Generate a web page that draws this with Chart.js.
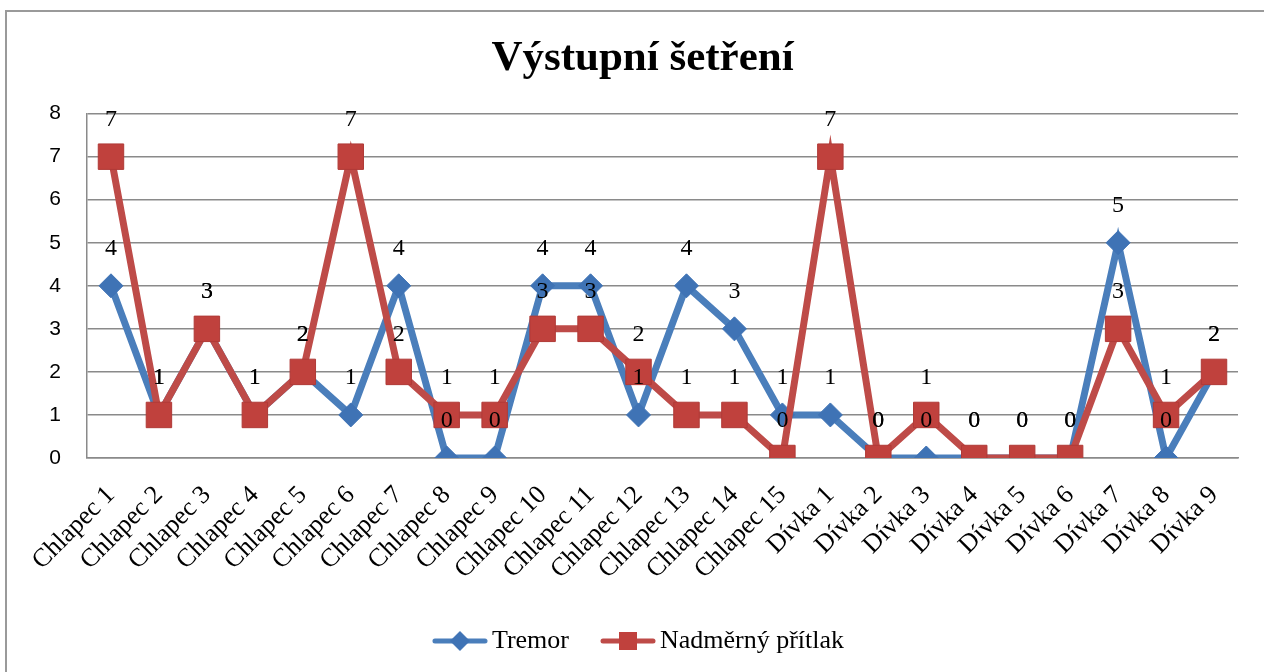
<!DOCTYPE html>
<html>
<head>
<meta charset="utf-8">
<script src="https://cdn.jsdelivr.net/npm/chart.js@4.4.1/dist/chart.umd.min.js"></script>
<style>
  html, body { margin: 0; padding: 0; background: #fff; }
  #wrap { position: relative; width: 1264px; height: 672px; overflow: hidden; }
  #frame { position: absolute; left: 5px; top: 10px; width: 1300px; height: 700px; border: 2px solid #9a9a9a; box-sizing: border-box; }
  canvas { position: absolute; left: 0; top: 0; }
</style>
</head>
<body>
<div id="wrap">
  <div id="frame"></div>
  <canvas id="c" width="1264" height="672"></canvas>
</div>
<script>
const CATEGORIES = [
  'Chlapec 1','Chlapec 2','Chlapec 3','Chlapec 4','Chlapec 5','Chlapec 6','Chlapec 7','Chlapec 8',
  'Chlapec 9','Chlapec 10','Chlapec 11','Chlapec 12','Chlapec 13','Chlapec 14','Chlapec 15',
  'Dívka 1','Dívka 2','Dívka 3','Dívka 4','Dívka 5','Dívka 6','Dívka 7','Dívka 8','Dívka 9'
];
const TREMOR = [4,1,3,1,2,1,4,0,0,4,4,1,4,3,1,1,0,0,0,0,0,5,0,2];
const PRITLAK = [7,1,3,1,2,7,2,1,1,3,3,2,1,1,0,7,0,1,0,0,0,3,1,2];
const Y_TICKS = [0,1,2,3,4,5,6,7,8];

const BLUE = '#4A7EBB', RED = '#BE4B48';
const SERIF = '"Liberation Serif", "Times New Roman", serif';
const SANS = '"Liberation Sans", Arial, sans-serif';

// legend icon: line with marker in the middle
function legendIcon(color, fill, shape){
  const cv = document.createElement('canvas');
  cv.width = 56; cv.height = 28;
  const g = cv.getContext('2d');
  g.strokeStyle = color; g.lineWidth = 5; g.lineCap = 'round';
  g.beginPath(); g.moveTo(3, 14); g.lineTo(53, 14); g.stroke();
  g.fillStyle = fill;
  if (shape === 'diamond') {
    g.beginPath(); g.moveTo(28, 4); g.lineTo(38, 14); g.lineTo(28, 24); g.lineTo(18, 14); g.closePath(); g.fill();
  } else {
    g.fillRect(19, 5, 18, 18);
  }
  return cv;
}
const ICONS = [legendIcon(BLUE, '#3F73B5', 'diamond'), legendIcon(RED, '#C0413D', 'square')];

// value labels above each point
const valueLabels = {
  id: 'valueLabels',
  afterDatasetsDraw(chart){
    const ctx = chart.ctx;
    ctx.save();
    ctx.font = '24px ' + SERIF;
    ctx.fillStyle = '#000';
    ctx.textAlign = 'center';
    ctx.textBaseline = 'middle';
    chart.data.datasets.forEach((ds, i) => {
      chart.getDatasetMeta(i).data.forEach((pt, j) => {
        ctx.fillText(String(ds.data[j]), pt.x, pt.y - 37);
      });
    });
    ctx.restore();
  }
};

new Chart(document.getElementById('c'), {
  type: 'line',
  data: {
    labels: CATEGORIES,
    datasets: [
      { label: 'Tremor', data: TREMOR, borderColor: BLUE, borderWidth: 7, tension: 0,
        pointStyle: 'rectRot', pointRadius: 12, pointBackgroundColor: '#3F73B5', pointBorderColor: '#3F73B5', pointBorderWidth: 1, order: 2 },
      { label: 'Nadměrný přítlak', data: PRITLAK, borderColor: RED, borderWidth: 7, tension: 0,
        pointStyle: 'rect', pointRadius: 18, pointBackgroundColor: '#C0413D', pointBorderColor: '#B03A37', pointBorderWidth: 1, order: 1 }
    ]
  },
  options: {
    responsive: false,
    animation: false,
    events: [],
    layout: { padding: { left: 47, right: 26, top: 12, bottom: 8 } },
    plugins: {
      title: {
        display: true, text: 'Výstupní šetření', color: '#000',
        font: { family: SERIF, size: 43, weight: 'bold' },
        padding: { top: 21, bottom: 29 }
      },
      legend: {
        position: 'bottom',
        labels: {
          color: '#000', font: { family: SERIF, size: 26 },
          usePointStyle: true, pointStyleWidth: 38, padding: 40,
          generateLabels: () => [
            { text: 'Tremor', pointStyle: ICONS[0], datasetIndex: 0, fillStyle: BLUE, strokeStyle: BLUE, lineWidth: 0 },
            { text: 'Nadměrný přítlak', pointStyle: ICONS[1], datasetIndex: 1, fillStyle: RED, strokeStyle: RED, lineWidth: 0 }
          ]
        }
      },
      tooltip: { enabled: false }
    },
    scales: {
      x: {
        offset: true,
        grid: { display: false, drawTicks: false },
        border: { display: true, color: '#8a8a8a', width: 1.5 },
        ticks: { color: '#000', font: { family: SERIF, size: 26 }, minRotation: 45, maxRotation: 45, autoSkip: false, padding: 22 },
        afterFit: (s) => { s.height = 130; }
      },
      y: {
        min: 0, max: 8,
        afterBuildTicks: (s) => { s.ticks = Y_TICKS.map(v => ({ value: v })); },
        grid: { color: '#8a8a8a', lineWidth: 1.5, drawTicks: false },
        border: { display: true, color: '#8a8a8a', width: 1.5 },
        ticks: { color: '#000', font: { family: SANS, size: 21 }, padding: 26 },
        afterFit: (s) => { s.width = 40; }
      }
    }
  },
  plugins: [valueLabels]
});
</script>
</body>
</html>
